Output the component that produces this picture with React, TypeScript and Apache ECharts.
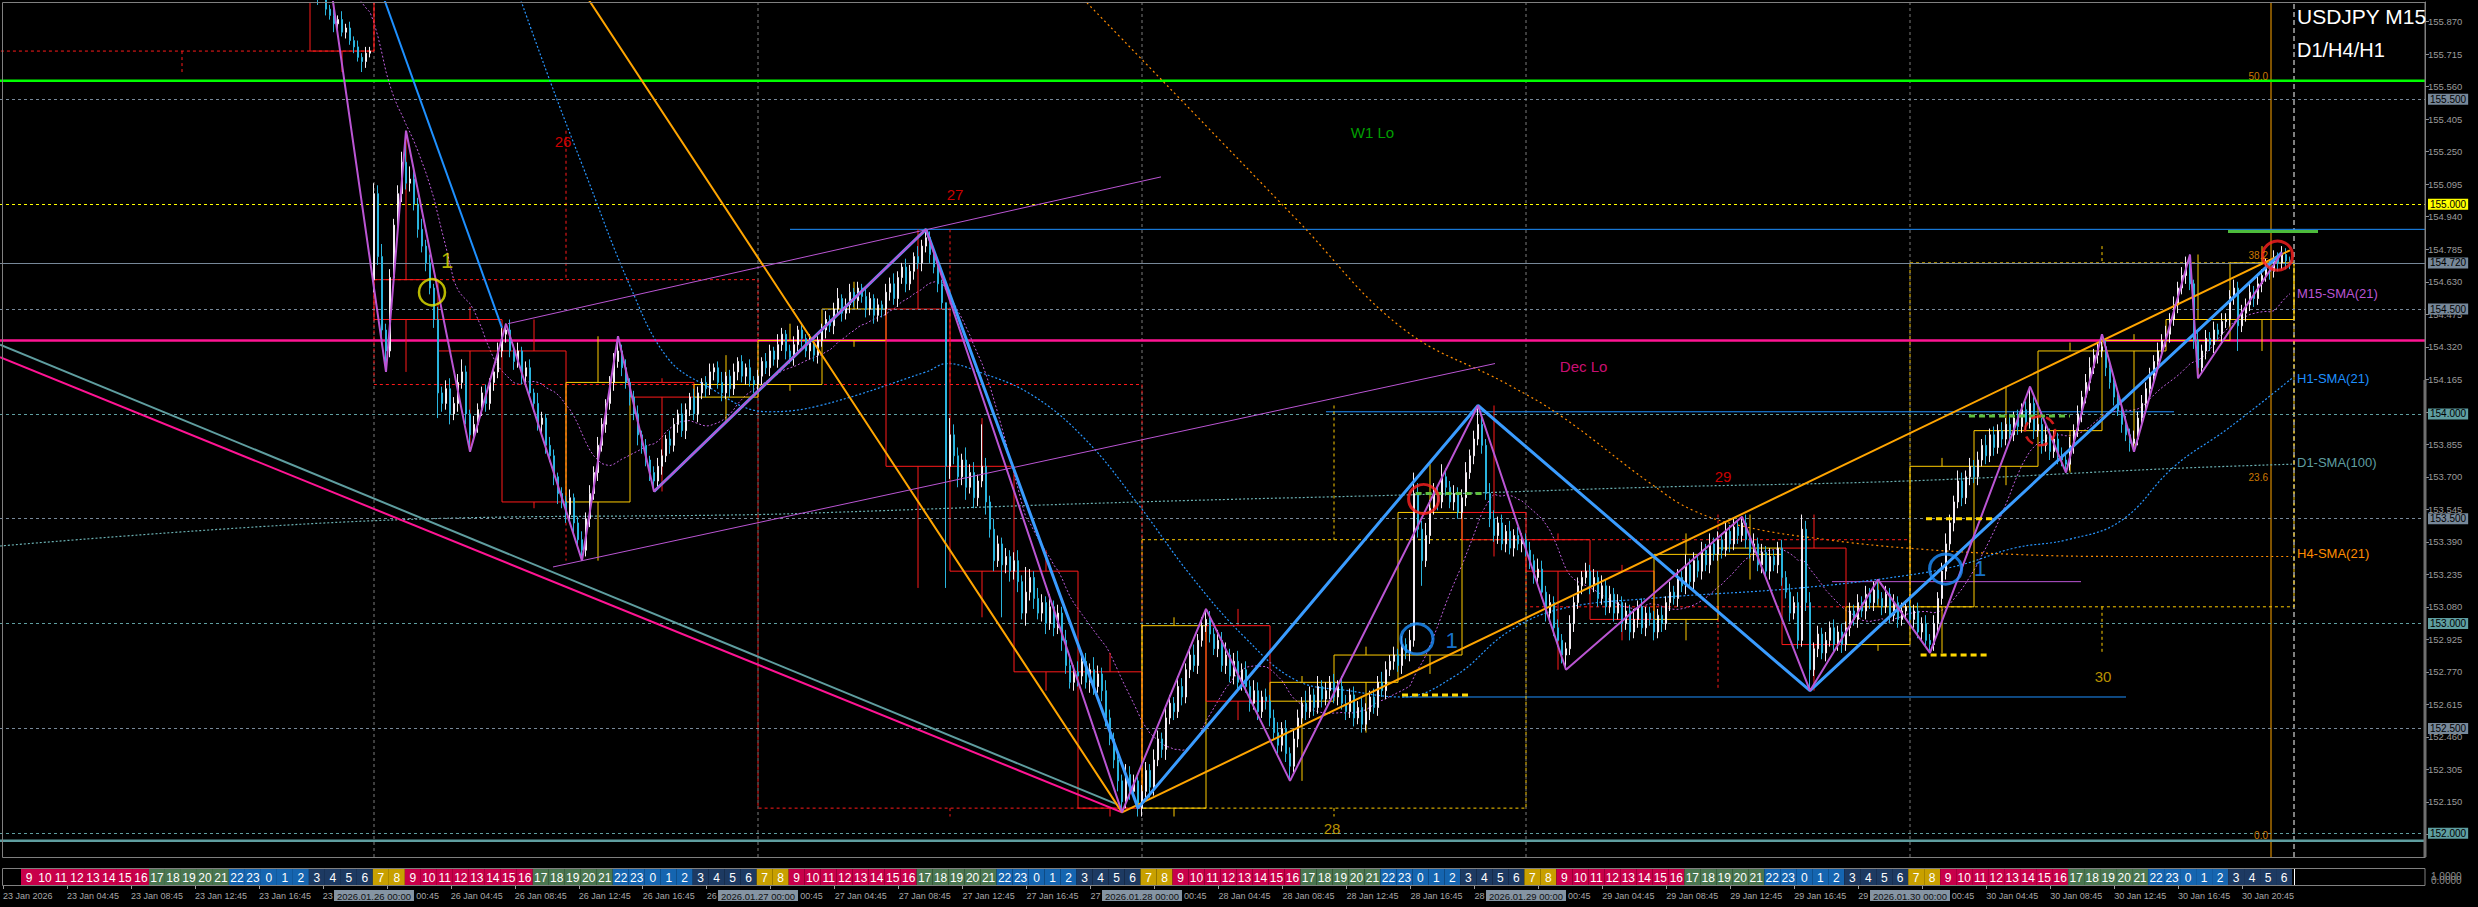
import React, { useEffect, useRef } from "react";
import * as echarts from "echarts";

// ---------- time structure ----------
const DAY_NAMES = ["23 Jan", "26 Jan", "27 Jan", "28 Jan", "29 Jan", "30 Jan"];
const DAY_STAMPS = ["2026.01.23", "2026.01.26", "2026.01.27", "2026.01.28", "2026.01.29", "2026.01.30"];
const BARS_PER_DAY = 96;
const LOCAL_HOUR_SHIFT = 7;

// ---------- M15 candles (bar 0 = 23 Jan 00:00 server) ----------
const FIRST_OPEN = 158.4;
const GAP_BAR = 96;
const GAP_OPEN = 154.64;
const closes = [
  158.42,158.45,158.40,158.38,158.44,158.50,158.47,158.52,158.48,158.55,158.60,158.58,158.52,158.56,158.62,158.65,
  158.70,158.66,158.72,158.78,158.74,158.80,158.85,158.90,158.82,158.76,158.80,158.72,158.65,158.70,158.62,158.58,
  158.52,158.55,158.48,158.40,158.44,158.36,158.30,158.34,158.25,158.20,158.28,158.22,158.15,158.10,158.18,158.05,
  157.98,158.02,157.92,157.85,157.90,157.80,157.72,157.76,157.60,157.40,157.20,157.05,156.90,156.75,156.82,156.60,
  156.48,156.55,156.42,156.35,156.40,156.28,156.32,156.22,156.18,156.25,156.15,156.10,156.16,156.08,156.12,156.05,
  156.08,156.02,155.99,156.03,155.93,155.90,155.86,155.88,155.82,155.84,155.78,155.75,155.70,155.68,155.72,155.73,
  155.05,154.75,154.40,154.30,154.65,154.90,155.05,155.20,155.10,155.12,155.00,154.88,154.80,154.72,154.60,154.45,
  154.10,154.05,154.12,154.00,154.05,154.15,154.20,154.00,153.90,153.95,154.02,154.10,154.05,154.15,154.20,154.30,
  154.38,154.40,154.30,154.25,154.30,154.18,154.22,154.10,154.05,153.95,153.98,153.85,153.80,153.70,153.62,153.58,
  153.52,153.60,153.48,153.40,153.35,153.50,153.62,153.72,153.85,153.95,154.05,154.15,154.25,154.30,154.22,154.15,
  154.08,154.00,153.90,153.85,153.78,153.72,153.68,153.75,153.80,153.88,153.85,153.95,154.00,153.92,154.02,154.08,
  154.00,154.10,154.15,154.12,154.20,154.22,154.15,154.10,154.18,154.12,154.20,154.25,154.18,154.22,154.16,154.14,
  154.18,154.25,154.22,154.30,154.26,154.33,154.38,154.30,154.27,154.33,154.40,154.36,154.30,154.34,154.28,154.35,
  154.40,154.45,154.42,154.50,154.55,154.48,154.52,154.58,154.54,154.60,154.56,154.50,154.55,154.47,154.52,154.50,
  154.58,154.62,154.55,154.65,154.70,154.62,154.68,154.75,154.72,154.80,154.84,154.76,154.70,154.62,154.53,153.75,
  153.90,153.80,153.70,153.78,153.65,153.72,153.60,153.68,153.75,153.58,153.45,153.30,153.38,153.28,153.32,153.25,
  153.30,153.20,153.05,153.15,153.22,153.12,153.05,153.10,153.00,153.08,152.98,153.05,152.92,152.80,152.72,152.77,
  152.75,152.82,152.72,152.78,152.70,152.76,152.68,152.55,152.45,152.35,152.25,152.15,152.28,152.20,152.25,152.12,
  152.20,152.30,152.22,152.35,152.45,152.40,152.55,152.62,152.58,152.70,152.65,152.78,152.85,152.80,152.92,152.99,
  153.02,152.95,152.88,152.92,152.80,152.85,152.75,152.82,152.72,152.78,152.70,152.62,152.68,152.58,152.65,152.63,
  152.55,152.48,152.42,152.50,152.38,152.32,152.45,152.55,152.62,152.58,152.66,152.60,152.70,152.64,152.68,152.72,
  152.65,152.70,152.62,152.58,152.66,152.55,152.60,152.52,152.58,152.65,152.60,152.72,152.68,152.78,152.82,152.85,
  152.80,152.90,152.86,152.92,153.62,153.45,153.30,153.42,153.55,153.62,153.58,153.70,153.65,153.58,153.62,153.53,
  153.60,153.72,153.80,153.88,153.95,153.85,153.62,153.50,153.42,153.48,153.38,153.44,153.36,153.42,153.38,153.40,
  153.35,153.30,153.22,153.26,153.15,153.05,153.10,152.98,152.92,152.85,152.88,153.00,153.10,153.18,153.22,153.25,
  153.18,153.22,153.12,153.18,153.08,153.14,153.05,153.10,153.00,153.06,152.96,153.02,153.08,152.98,153.05,153.02,
  152.96,153.04,153.00,153.10,153.15,153.12,153.22,153.18,153.28,153.20,153.30,153.25,153.35,153.28,153.38,153.33,
  153.40,153.35,153.44,153.38,153.46,153.42,153.48,153.40,153.34,153.38,153.28,153.34,153.25,153.32,153.28,153.36,
  153.22,153.15,153.05,153.10,152.92,153.45,153.10,152.78,152.88,152.95,152.86,152.92,152.98,152.90,152.96,152.90,
  152.98,153.06,153.02,153.10,153.06,153.14,153.10,153.16,153.12,153.08,153.14,153.04,153.10,153.02,153.06,153.08,
  153.02,153.06,152.96,153.00,152.92,152.90,153.00,153.12,153.25,153.38,153.48,153.58,153.68,153.60,153.70,153.75,
  153.70,153.78,153.85,153.80,153.90,153.84,153.92,153.88,153.95,153.90,153.98,153.94,154.02,153.96,154.05,153.92,
  153.95,153.85,153.90,153.82,153.88,153.80,153.78,153.76,153.85,153.92,154.00,154.08,154.15,154.22,154.28,154.30,
  154.32,154.22,154.15,154.08,154.02,153.95,153.90,153.86,153.88,153.98,154.05,154.12,154.18,154.25,154.30,154.35,
  154.38,154.45,154.52,154.60,154.66,154.72,154.62,154.35,154.22,154.30,154.36,154.33,154.40,154.38,154.44,154.45,
  154.56,154.60,154.42,154.48,154.52,154.58,154.55,154.62,154.66,154.70,154.68,154.74,154.72,154.76,154.73,154.72,
];
// wick lengths in hundredths of a yen
const upWick = [
  3,2,4,2,3,5,2,3,4,2,3,2,4,3,2,3, 2,4,3,2,5,3,4,2,3,2,4,3,2,3,5,2, 3,2,4,3,2,3,5,2,3,4,2,3,2,4,3,2,
  4,3,2,3,4,2,3,5,3,2,4,3,6,3,2,4, 3,2,4,3,2,3,4,2,3,2,3,4,2,3,2,3, 2,3,2,3,5,2,3,2,4,2,3,2,3,2,3,2,
  5,4,6,3,4,3,4,5,15,6,4,3,5,3,4,2, 6,3,4,5,3,4,6,3,2,4,3,3,4,2,3,4, 3,3,5,3,4,2,3,4,2,5,3,2,4,3,2,3,
  3,4,2,3,4,3,4,3,4,3,2,3,4,7,3,4, 2,3,4,2,3,2,3,4,3,2,4,3,2,5,3,2, 4,3,2,3,4,2,3,5,2,3,4,2,3,2,4,2,
  3,2,4,3,2,5,3,2,3,4,2,3,2,4,3,2, 3,4,2,3,5,2,3,4,2,3,2,4,3,2,3,2, 4,3,5,3,2,4,3,2,5,3,4,3,2,3,2,0,
  8,5,4,3,6,4,5,3,20,4,3,5,4,3,4,3, 4,5,3,12,4,3,5,4,3,6,3,4,3,5,4,3, 5,3,4,3,6,4,3,5,4,3,4,3,5,4,3,2,
  3,4,3,5,4,3,6,4,3,5,4,3,4,5,3,4, 5,4,3,5,4,6,3,4,5,3,4,3,5,4,3,4, 3,4,5,3,4,3,5,4,3,6,4,3,5,3,4,3,
  4,3,5,4,3,4,3,5,4,3,4,3,5,4,3,4, 3,4,3,5,10,5,4,6,4,5,3,6,4,3,4,3, 4,5,3,4,9,4,3,5,4,3,4,3,5,3,4,3,
  3,4,3,5,4,3,4,3,4,3,3,4,3,4,3,4, 3,4,3,5,3,4,3,4,3,4,3,5,3,4,3,3, 4,3,4,3,5,3,4,3,5,3,4,3,4,3,5,3,
  4,3,4,3,4,3,3,4,3,5,3,4,3,4,3,3, 4,3,4,3,5,7,4,5,3,4,3,4,3,4,3,4, 3,4,3,4,3,4,3,4,5,3,4,3,4,3,4,3,
  4,3,4,3,4,3,4,3,4,5,4,3,5,4,3,4, 3,4,3,5,3,4,3,4,3,5,3,4,3,4,8,3, 4,3,5,3,4,3,4,3,4,3,4,3,4,5,3,4,
  6,3,4,3,4,3,4,3,4,3,4,3,4,3,4,3, 4,3,4,3,4,3,4,2,4,3,4,3,4,3,4,3, 3,4,3,4,3,4,3,4,3,4,3,4,3,4,3,2,
];
const downWick = [
  2,3,2,4,3,2,3,2,4,3,2,3,2,3,4,2, 3,2,4,3,2,3,2,4,3,2,3,4,2,3,2,3, 2,4,3,2,3,2,4,3,2,3,4,2,3,2,4,3,
  3,2,4,3,2,4,3,2,6,5,3,4,2,3,4,3, 4,3,2,3,4,3,2,3,4,2,3,2,3,4,3,2, 3,2,4,2,3,2,4,3,2,3,2,3,2,5,3,2,
  6,4,5,10,3,4,3,4,3,4,3,4,3,4,3,4, 12,4,3,5,3,4,3,5,8,3,4,3,4,3,4,3, 3,4,3,4,3,4,5,3,4,3,5,4,3,4,5,3,
  4,3,5,4,5,3,4,3,4,3,4,3,4,3,4,3, 4,3,5,4,3,4,5,3,4,3,4,3,4,3,4,3, 3,4,3,4,3,4,3,4,3,4,3,4,3,4,3,4,
  3,4,3,4,3,4,3,4,3,4,3,4,3,4,3,4, 3,4,3,4,3,4,3,4,3,4,3,4,3,4,3,4, 3,4,3,4,3,4,3,4,3,4,3,4,3,4,3,58,
  6,4,5,4,6,3,5,4,3,6,4,5,3,25,4,5, 4,5,3,6,4,5,3,4,5,3,4,3,5,4,3,4, 5,4,3,5,4,3,5,4,3,4,5,5,3,4,3,4,
  4,3,5,4,3,4,5,3,4,3,4,3,4,3,4,3, 3,4,3,4,3,4,3,4,3,4,3,4,3,4,3,4, 4,3,4,3,4,7,3,4,3,4,3,4,3,4,3,4,
  3,4,3,4,3,4,3,4,3,4,3,4,3,4,3,4, 3,4,3,4,3,4,12,3,4,3,4,3,4,3,4,3, 3,4,3,4,3,4,3,4,3,4,3,4,3,4,3,4,
  3,4,3,4,3,4,3,4,3,4,7,3,4,3,4,3, 4,3,4,3,4,3,4,3,4,3,4,3,4,3,4,3, 4,3,4,3,4,3,4,3,4,3,4,3,4,3,4,3,
  3,4,3,4,3,4,3,4,3,4,3,4,3,4,3,4, 4,3,4,3,4,3,4,10,3,4,3,4,3,4,3,4, 3,4,3,4,3,4,3,4,3,4,3,4,3,4,3,4,
  3,4,3,4,3,4,3,4,3,4,3,4,3,4,3,4, 3,4,3,4,3,4,3,4,3,4,3,4,3,4,3,4, 3,4,3,4,3,4,3,4,3,4,3,4,3,4,3,4,
  3,4,3,4,3,4,3,4,4,3,4,3,4,3,4,3, 3,4,3,4,3,4,3,4,5,3,4,3,4,3,4,3, 3,4,12,3,4,3,4,3,4,3,4,3,4,3,4,3,
];

// ---------- price levels ----------
const ROUND_LEVELS = [155.5, 155.0, 154.5, 154.0, 153.5, 153.0, 152.5, 152.0];
const CURRENT_PRICE = 154.718;
const W1_LO = 155.589;
const DEC_LO = 154.35;
const BASE_LEVEL = 151.965;
const Y_TICKS = [151.995,152.150,152.305,152.460,152.615,152.770,152.925,153.080,153.235,153.390,153.545,153.700,153.855,
  154.010,154.165,154.320,154.475,154.630,154.785,154.940,155.095,155.250,155.405,155.560,155.715,155.870];
const FIB_LEVELS = [["0.0", 151.965], ["23.6", 153.675], ["38.2", 154.73], ["50.0", 155.587]];

// ---------- drawn objects (bar index, price) ----------
const ZIGZAG = [[84,156.2],[99,154.2],[104,155.35],[120,153.82],[129,154.43],[148,153.3],[157,154.37],[166,153.63],[234,154.88],
  [283,152.1],[304,153.07],[325,152.25],[372,154.04],[394,152.78],[438,153.51],[455,152.68],[472,153.21],[485,152.86],
  [510,154.13],[519,153.72],[528,154.38],[536,153.82],[550,154.76],[552,154.17],[573,154.77]];
const H1_ZIG_A = [[97,156.06],[128,154.41]];
const H1_ZIG_B = [[166,153.63],[234,154.88],[287,152.12],[372,154.04],[455,152.68],[573,154.77]];
const ORANGE_TREND = [[146.75,156.06],[283,152.1],[575,154.78]];
const PINK_TREND = [[2.5,154.27],[283,152.1]];
const TEAL_TREND = [[2.5,154.33],[281.5,152.14]];
const CHANNEL_UP = [[129.5,154.43],[292.75,155.13]];
const CHANNEL_LO = [[140.75,153.27],[376.25,154.24]];
const BLUE_LEVELS = [[[200,154.88],[608.75,154.88]],[[334,154.01],[546,154.01]],[[353,152.65],[534,152.65]]];
const PURPLE_LEVEL = [[460.5,153.2],[522.75,153.2]];
const YELLOW_DASHES = [[[353,152.66],[369.5,152.66]],[[482.65,152.85],[499.35,152.85]],[[484,153.5],[501,153.5]]];
const GREEN_DASHES = [[[356.4,153.62],[373.5,153.62]],[[494.75,153.99],[520,153.99]]];
const GREEN_TARGET = [[559.5,154.87],[582,154.87]];
const FIB_BAR = 570.25;
const SHIFT_BAR = 576;

const H1_SMA = [[132.75,155.97],[140.15,155.58],[148,155.19],[160,154.61],[169.25,154.27],[178.5,154.14],[194.5,154.01],
  [207.5,154.04],[234,154.2],[239.25,154.24],[247.25,154.2],[260.5,154.09],[273.75,153.88],[287,153.57],[300.15,153.23],
  [313.4,152.94],[326.5,152.73],[339.75,152.68],[353,152.65],[366.25,152.75],[379.5,152.96],[392.75,153.07],[415,153.12],
  [452.5,153.17],[479.25,153.23],[492.75,153.28],[506,153.36],[519.4,153.4],[532.75,153.49],[546.1,153.75],[559.5,153.93],[575.5,154.17]];
const H4_SMA = [[274.25,155.96],[300.15,155.45],[326.5,154.93],[353,154.41],[379.5,154.14],[392.75,153.99],[415,153.67],
  [425.75,153.54],[439.25,153.46],[459.25,153.4],[479.25,153.36],[506,153.33],[532.75,153.32],[575.5,153.32]];
const D1_SMA = [[2.5,153.37],[95.15,153.49],[192.15,153.52],[210,153.53],[287,153.58],[366.25,153.62],[415,153.65],
  [479.25,153.68],[546.1,153.74],[575.5,153.76]];

const CIRCLES = [
  { kind: "yellow", at: [110.5, 154.58] },
  { kind: "blue", at: [356.75, 152.927] },
  { kind: "red", at: [358.4, 153.594] },
  { kind: "blue", at: [488.9, 153.26] },
  { kind: "red", at: [571.9, 154.755] },
  { kind: "redDashed", at: [512.5, 153.92] },
];
const SIGNAL_LABELS = [
  { kind: "yellow", text: "1", at: [114.25, 154.73] },
  { kind: "blue", text: "1", at: [365.4, 152.92] },
  { kind: "blue", text: "1", at: [497.5, 153.265] },
];
const NOTES = [
  { kind: "green", text: "W1 Lo", at: [345.6, 155.342] },
  { kind: "pink", text: "Dec Lo", at: [398.4, 154.228] },
  { kind: "red", text: "26", at: [143.25, 155.3] },
  { kind: "red", text: "27", at: [241.25, 155.044] },
  { kind: "gold", text: "28", at: [335.5, 152.025] },
  { kind: "red", text: "29", at: [433.25, 153.7] },
  { kind: "gold", text: "30", at: [528.25, 152.75] },
];

// ---------- layout ----------
const X_MIN = 2.5, X_MAX = 608.75;
const Y_MIN = 151.887, Y_MAX = 155.964;
const PLOT_W = 2425;
const FONT = "Liberation Sans, Arial, sans-serif";
const GOLD = "#ffcc00";
const RED = "#ff1a1a";

function buildOption() {
  const N = closes.length;
  const opens = closes.map((c, i) => (i === 0 ? FIRST_OPEN : i === GAP_BAR ? GAP_OPEN : closes[i - 1]));
  const highs = closes.map((c, i) => +(Math.max(opens[i], c) + upWick[i] / 100).toFixed(3));
  const lows = closes.map((c, i) => +(Math.min(opens[i], c) - downWick[i] / 100).toFixed(3));
  const candles = closes.map((c, i) => [i, opens[i], c, lows[i], highs[i]]);

  const sma21 = [];
  for (let i = 20; i < N; i++) {
    let s = 0;
    for (let k = i - 20; k <= i; k++) s += closes[k];
    sma21.push([i, s / 21]);
  }

  const boxes = (size) => {
    const out = [];
    for (let s = 0; s < N; s += size) {
      const e = Math.min(s + size, N);
      let h = -Infinity, l = Infinity;
      for (let k = s; k < e; k++) { h = Math.max(h, highs[k]); l = Math.min(l, lows[k]); }
      out.push([s, s + size, opens[s], closes[e - 1], h, l]);
    }
    return out;
  };

  const boxSeries = (data, dashed) => ({
    type: "custom",
    xAxisIndex: 0, yAxisIndex: 0, z: 3, silent: true, clip: true,
    encode: { x: [0, 1], y: [2, 3, 4, 5] },
    data,
    renderItem: (params, api) => {
      const s = api.value(0), e = api.value(1), o = api.value(2), c = api.value(3), h = api.value(4), l = api.value(5);
      const top = Math.max(o, c), bot = Math.min(o, c);
      const mid = (s + e) / 2;
      const p1 = api.coord([s, top]);
      const p2 = api.coord([e, bot]);
      const ph = api.coord([mid, h]);
      const pt = api.coord([mid, top]);
      const pb = api.coord([mid, bot]);
      const pl = api.coord([mid, l]);
      const color = c >= o ? GOLD : RED;
      const dash = dashed ? [3, 3] : null;
      return {
        type: "group",
        children: [
          { type: "rect", shape: { x: p1[0], y: p1[1], width: p2[0] - p1[0], height: Math.max(1, p2[1] - p1[1]) },
            style: { fill: "none", stroke: color, lineWidth: 1, lineDash: dash } },
          { type: "line", shape: { x1: ph[0], y1: ph[1], x2: pt[0], y2: pt[1] }, style: { stroke: color, lineWidth: 1, lineDash: dash } },
          { type: "line", shape: { x1: pb[0], y1: pb[1], x2: pl[0], y2: pl[1] }, style: { stroke: color, lineWidth: 1, lineDash: dash } },
        ],
      };
    },
  });

  const seg = (data, color, width, type, z, smooth) => ({
    type: "line", xAxisIndex: 0, yAxisIndex: 0, data, symbol: "none", silent: true, clip: true,
    smooth: smooth || false, z: z || 4,
    lineStyle: { color, width, type: type || "solid" },
  });

  const levelStyle = (p) => (p === 155 ? "#ffff00" : Math.abs(p % 1) < 1e-9 ? "#5f9ea0" : "#778899");
  const markData = ROUND_LEVELS.map((p) => ({
    yAxis: p,
    lineStyle: { color: levelStyle(p), type: [3, 3], width: 1 },
    label: { backgroundColor: levelStyle(p) },
  }));
  markData.push({ yAxis: CURRENT_PRICE, lineStyle: { color: "#778899", type: "solid", width: 1 }, label: { backgroundColor: "#778899" } });

  const sessionColor = (h) =>
    h === 7 || h === 8 ? "#c8a000" : h >= 9 && h <= 16 ? "#c8004a" : h >= 17 && h <= 21 ? "#4a7650" : h >= 22 || h <= 2 ? "#1565b0" : "#1d3a62";
  const cells = [];
  for (let H = 2; H < N / 4; H++) cells.push([H * 4, H * 4 + 4, (H % 24 + LOCAL_HOUR_SHIFT) % 24]);

  const labelBars = [3];
  for (let b = 19; b < N; b += 16) labelBars.push(b);
  const barText = (b) => {
    if (b === 3) return "23 Jan 2026";
    const d = Math.floor(b / BARS_PER_DAY);
    const m = (b % BARS_PER_DAY) * 15;
    const hh = String(Math.floor(m / 60)).padStart(2, "0");
    const mm = String(m % 60).padStart(2, "0");
    return `${DAY_NAMES[d]} ${hh}:${mm}`;
  };
  const stampBars = [96, 192, 288, 384, 480];

  const circleStyle = {
    yellow: { color: "#e6e600", size: [26, 26], type: "solid", w: 2.5 },
    blue: { color: "#1e90ff", size: [32, 30], type: "solid", w: 3 },
    red: { color: "#ff2020", size: [30, 29], type: "solid", w: 3 },
    redDashed: { color: "#ff2020", size: [30, 29], type: "dashed", w: 2.5 },
  };
  const noteColor = { green: "#00c800", pink: "#ff1493", red: "#ff0000", gold: "#e6b800", yellow: "#e6e600", blue: "#1e90ff" };

  const series = [];
  series.push({
    type: "line", xAxisIndex: 0, yAxisIndex: 0, data: [[X_MIN, CURRENT_PRICE], [X_MIN, CURRENT_PRICE]], symbol: "none", z: 1,
    lineStyle: { opacity: 0 }, silent: true,
    markLine: {
      silent: true, symbol: ["none", "none"], animation: false,
      label: { show: true, position: "end", distance: 3, formatter: (p) => p.value.toFixed(3), color: "#000",
        fontSize: 10, fontFamily: FONT, padding: [1, 2, 0, 2] },
      data: markData,
    },
  });
  for (let d = 1; d < DAY_NAMES.length; d++) series.push(seg([[d * BARS_PER_DAY, Y_MIN], [d * BARS_PER_DAY, Y_MAX]], "#7a7a7a", 1, [3, 3], 1));
  series.push(seg([[SHIFT_BAR, Y_MIN], [SHIFT_BAR, Y_MAX]], "#ffffff", 1, [5, 3], 2));
  series.push(seg([[FIB_BAR, Y_MIN], [FIB_BAR, Y_MAX]], "#ffa500", 1, "solid", 2));
  series.push(seg([[X_MIN, W1_LO], [X_MAX, W1_LO]], "#00ff00", 2.5, "solid", 2));
  series.push(seg([[X_MIN, DEC_LO], [X_MAX, DEC_LO]], "#ff1493", 2.5, "solid", 2));
  series.push(seg([[X_MIN, BASE_LEVEL], [X_MAX, BASE_LEVEL]], "#5f9ea0", 2.5, "solid", 2));
  BLUE_LEVELS.forEach((l) => series.push(seg(l, "#1e90ff", 1, "solid", 2)));
  series.push(seg(PURPLE_LEVEL, "#ba55d3", 1, "solid", 2));
  series.push(seg(sma21, "#c060e0", 1, [2, 2], 2));
  series.push(seg(H1_SMA, "#2896ff", 1.2, [2, 2], 2, 0.4));
  series.push(seg(H4_SMA, "#ff8c00", 1.2, [2, 3], 2, 0.4));
  series.push(seg(D1_SMA, "#6ab0b2", 1.2, [2, 2], 2, 0.4));
  series.push(boxSeries(boxes(BARS_PER_DAY), true));
  series.push(boxSeries(boxes(16), false));
  series.push({
    type: "candlestick", xAxisIndex: 0, yAxisIndex: 0, data: candles, z: 5, silent: true, clip: true,
    encode: { x: 0, y: [1, 2, 3, 4] },
    barWidth: 2.4,
    itemStyle: { color: "#f4eef4", color0: "#2ab4de", borderColor: "#f4eef4", borderColor0: "#2ab4de", borderWidth: 1 },
  });
  series.push(seg(PINK_TREND, "#ff1493", 2, "solid", 6));
  series.push(seg(TEAL_TREND, "#5f9ea0", 2, "solid", 6));
  series.push(seg(ORANGE_TREND, "#ffa500", 2, "solid", 6));
  series.push(seg(CHANNEL_UP, "#ba55d3", 1, "solid", 6));
  series.push(seg(CHANNEL_LO, "#ba55d3", 1, "solid", 6));
  series.push(seg(H1_ZIG_A, "#1e90ff", 2, "solid", 6));
  series.push(seg(H1_ZIG_B, "#3a9cff", 3, "solid", 6));
  series.push(seg(ZIGZAG, "#ba55d3", 2, "solid", 7));
  YELLOW_DASHES.forEach((l) => series.push(seg(l, "#ffd700", 3, [6, 4], 7)));
  GREEN_DASHES.forEach((l) => series.push(seg(l, "#5fbf3f", 3, [6, 4], 7)));
  series.push(seg(GREEN_TARGET, "#4cbb3c", 3, "solid", 7));
  series.push({
    type: "scatter", xAxisIndex: 0, yAxisIndex: 0, z: 8, silent: true,
    data: CIRCLES.map((c) => {
      const st = circleStyle[c.kind];
      return { value: c.at, symbol: "circle", symbolSize: st.size,
        itemStyle: { color: "rgba(0,0,0,0)", borderColor: st.color, borderWidth: st.w, borderType: st.type } };
    }),
  });
  series.push({
    type: "scatter", xAxisIndex: 0, yAxisIndex: 0, z: 9, silent: true, symbolSize: 0,
    label: { show: true, position: "inside", formatter: "{b}", fontFamily: FONT, fontSize: 15 },
    data: NOTES.map((n) => ({ name: n.text, value: n.at, label: { color: noteColor[n.kind] } })).concat(
      SIGNAL_LABELS.map((n) => ({ name: n.text, value: n.at, label: { color: noteColor[n.kind], fontSize: 22 } })),
    ),
  });
  series.push({
    type: "scatter", xAxisIndex: 0, yAxisIndex: 0, z: 9, silent: true, symbolSize: 0,
    label: { show: true, position: "inside", formatter: "{b}", fontFamily: FONT, fontSize: 10, color: "#ff9900",
      align: "right", verticalAlign: "bottom" },
    data: FIB_LEVELS.map((f) => ({ name: f[0], value: [569.5, f[1]] })),
  });
  series.push({
    type: "custom", xAxisIndex: 1, yAxisIndex: 1, silent: true, clip: true,
    encode: { x: [0, 1], y: 2 },
    data: cells,
    renderItem: (params, api) => {
      const s = api.value(0), e = api.value(1), h = api.value(2);
      const p1 = api.coord([s - 0.5, 1]);
      const p2 = api.coord([e - 0.5, 0]);
      return {
        type: "group",
        children: [
          { type: "rect", shape: { x: p1[0], y: p1[1], width: p2[0] - p1[0], height: p2[1] - p1[1] }, style: { fill: sessionColor(h) } },
          { type: "text", x: (p1[0] + p2[0]) / 2, y: (p1[1] + p2[1]) / 2 + 0.5,
            style: { text: String(h), fill: "#ffffff", font: `12px ${FONT}`, align: "center", verticalAlign: "middle" } },
        ],
      };
    },
  });

  return {
    animation: false,
    backgroundColor: "#000000",
    grid: [
      { left: 0, top: 2, width: PLOT_W, height: 855 },
      { left: 0, top: 868, width: PLOT_W, height: 18 },
      { left: 0, top: 868, width: PLOT_W, height: 18 },
    ],
    xAxis: [
      { type: "value", gridIndex: 0, min: X_MIN, max: X_MAX, show: false },
      { type: "value", gridIndex: 1, min: X_MIN, max: X_MAX, position: "bottom",
        axisLine: { show: false }, splitLine: { show: false },
        axisTick: { show: true, customValues: labelBars, length: 3, lineStyle: { color: "#9a9a9a" } },
        axisLabel: { show: true, customValues: labelBars, formatter: (v) => barText(Math.round(v)), align: "left",
          margin: 5, color: "#a8a8a8", fontSize: 9, fontFamily: FONT } },
      { type: "value", gridIndex: 2, min: X_MIN, max: X_MAX, position: "bottom",
        axisLine: { show: false }, splitLine: { show: false }, axisTick: { show: false },
        axisLabel: { show: true, customValues: stampBars,
          formatter: (v) => `${DAY_STAMPS[Math.round(v) / BARS_PER_DAY]} 00:00`, align: "center",
          margin: 4, color: "#101010", backgroundColor: "#8594a3", padding: [1, 3, 0, 3], fontSize: 9.5, fontFamily: FONT } },
    ],
    yAxis: [
      { type: "value", gridIndex: 0, min: Y_MIN, max: Y_MAX, position: "right",
        axisLine: { show: true, lineStyle: { color: "#808080" } }, splitLine: { show: false },
        axisTick: { show: true, customValues: Y_TICKS, length: 4, lineStyle: { color: "#909090" } },
        axisLabel: { show: true, customValues: Y_TICKS, formatter: (v) => v.toFixed(3), margin: 3,
          color: "#9a9a9a", fontSize: 9.5, fontFamily: FONT } },
      { type: "value", gridIndex: 1, min: 0, max: 1, show: false },
      { type: "value", gridIndex: 2, min: 0, max: 1, show: false },
    ],
    graphic: [
      { type: "rect", shape: { x: 2.5, y: 2.5, width: 2422.5, height: 855 }, style: { fill: "none", stroke: "#808080", lineWidth: 1 }, z: 50, silent: true },
      { type: "rect", shape: { x: 2.5, y: 868.5, width: 2422.5, height: 17 }, style: { fill: "none", stroke: "#808080", lineWidth: 1 }, z: 50, silent: true },
      { type: "rect", shape: { x: 2423.5, y: 380, width: 3, height: 477 }, style: { fill: "#707070" }, z: 50, silent: true },
      { type: "line", shape: { x1: 2294.5, y1: 869, x2: 2294.5, y2: 885 }, style: { stroke: "#ffffff", lineWidth: 1 }, z: 50, silent: true },
      { type: "text", x: 2297, y: 6, style: { text: "USDJPY M15", fill: "#ffffff", font: `21px ${FONT}` }, z: 60, silent: true },
      { type: "text", x: 2297, y: 40, style: { text: "D1/H4/H1", fill: "#ffffff", font: `20px ${FONT}` }, z: 60, silent: true },
      { type: "text", x: 2297, y: 287, style: { text: "M15-SMA(21)", fill: "#ba55d3", font: `13px ${FONT}` }, z: 60, silent: true },
      { type: "text", x: 2297, y: 372, style: { text: "H1-SMA(21)", fill: "#1e90ff", font: `13px ${FONT}` }, z: 60, silent: true },
      { type: "text", x: 2297, y: 456, style: { text: "D1-SMA(100)", fill: "#5f9ea0", font: `13px ${FONT}` }, z: 60, silent: true },
      { type: "text", x: 2297, y: 547, style: { text: "H4-SMA(21)", fill: "#ff8c00", font: `13px ${FONT}` }, z: 60, silent: true },
      { type: "text", x: 2431, y: 871, style: { text: "1.0000", fill: "#8c8c8c", font: `10px ${FONT}` }, z: 60, silent: true },
      { type: "text", x: 2431, y: 875, style: { text: "0.0000", fill: "#8c8c8c", font: `10px ${FONT}` }, z: 60, silent: true },
    ],
    series,
  };
}

export default function App() {
  const ref = useRef(null);
  useEffect(() => {
    document.body.style.margin = "0";
    document.body.style.background = "#000";
    const chart = echarts.init(ref.current, null, { renderer: "svg" });
    chart.setOption(buildOption());
    return () => chart.dispose();
  }, []);
  return <div ref={ref} style={{ width: 2478, height: 907, background: "#000" }} />;
}
